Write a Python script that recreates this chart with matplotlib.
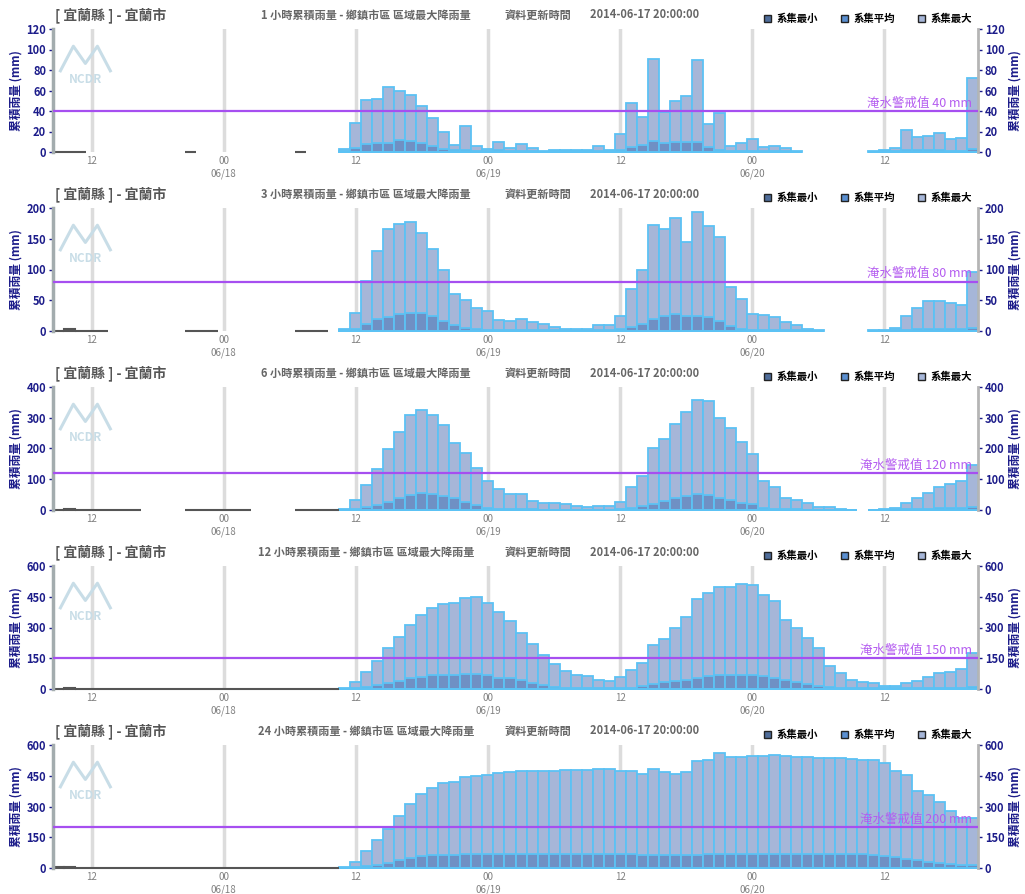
import matplotlib
matplotlib.use("Agg")
import matplotlib.pyplot as plt
import matplotlib.transforms as mtransforms
from matplotlib.patches import Patch
import numpy as np

plt.rcParams['font.family'] = ['Noto Sans CJK TC', 'DejaVu Sans']

N = None
# forecast hours, counted from 06/17 00:00 (35 -> 06/18 11:00 ... 92 -> 06/20 20:00)
hours = np.arange(35, 93)

# ---- 1 hour ----
max_1h = [2.5, 28, 51, 52, 63, 60, 56, 45, 33, 20, 6.5, 25, 6, 3, 10, 4, 8, 3.5, 0.5, 2,
          2, 1.5, 2, 6, 2, 18, 48, 34, 91, 39, 50, 55, 90, 27, 38.5, 6, 9, 13, 5, 6,
          3.5, 0.5, N, N, N, N, N, N, 0.5, 2, 4, 21, 15, 16, 19, 12.5, 13.5, 72]
avg_1h = [0.5, 4, 7.5, 9, 9, 12, 11, 9, 6, 3, 1.5, 1.5, 1, 1, 1.5, 1, 1, 0.5, 0, 0.5,
          0.5, 0.5, 0.5, 1, 0.5, 1.5, 5, 6.5, 11, 9, 10, 10, 10, 5, 2, 1, 1, 1, 0.5, 0.5,
          0.5, 0, N, N, N, N, N, N, 0, 0.5, 0.5, 1.5, 1.5, 1.5, 1.5, 1, 1, 3]
min_1h = [0] * 42 + [N] * 6 + [0] * 10
obs_hours_1h = [9, 10, 11, 21, 31]
obs_1h = [0, 0, 0, 0, 0]

# ---- 3 hours ----
max_3h = [3, 30, 82, 130, 166, 174, 178, 160, 134, 99, 60, 50, 37, 33, 18, 16, 20, 15, 12, 6,
          4, 4, 4, 9, 10, 25, 68, 99, 173, 166, 183, 145, 194, 170, 153, 71, 52, 28, 26, 23,
          14, 9, 3, 1, N, N, N, N, 1, 2, 5, 25, 37, 49, 48, 46, 43, 96]
avg_3h = [1, 4, 12, 19, 22, 27, 30, 30, 24, 16, 9, 5, 3, 2, 1.5, 1.5, 1.5, 1.5, 1, 1,
          0.5, 0.5, 0.5, 1, 1, 3, 6.5, 11, 20, 24, 28, 25, 25, 22, 16, 8, 3, 1.5, 1.5, 1.5,
          1, 1, 0.5, 0, N, N, N, N, 0, 0.5, 1, 2, 3, 3.5, 3.5, 3, 3, 5]
min_3h = [0] * 44 + [N] * 4 + [0] * 10
obs_hours_3h = [9, 10, 11, 12, 13, 21, 22, 23, 31, 32, 33]
obs_3h = [0, 2.5, 0, 0, 0, 0, 0, 0, 0, 0, 0]

# ---- 6 hours ----
max_6h = [2, 31, 81, 132, 199, 255, 309, 324, 309, 276, 217, 186, 135, 93, 67, 52, 52, 30, 24, 24,
          18, 14, 9, 12, 12, 27, 75, 109, 200, 231, 280, 318, 358, 354, 299, 266, 221, 183, 95, 75,
          39, 34, 24, 11, 9, 2, 0.5, N, 0.5, 2, 6.5, 24, 39, 54, 75, 83, 93, 145]
avg_6h = [0.5, 2, 10, 17, 26, 38, 48, 54, 51, 45, 38, 26, 17, 8, 4, 2.5, 2, 2, 1.5, 1.5,
          1, 1, 1, 1, 1, 2, 5, 12, 20, 29, 39, 45, 52, 49, 39, 32, 24, 18, 7, 3,
          2, 2, 1.5, 1, 1, 0.5, 0, N, 0, 0.5, 1, 2, 3, 4, 5, 5, 6, 9]
min_6h = [0] * 47 + [N] + [0] * 10
obs_hours_6h = [9, 10, 11, 12, 13, 14, 15, 16, 21, 22, 23, 24, 25, 26, 31, 32, 33, 34]
obs_6h = [0, 4, 0, 0, 0, 0, 0, 0, 0, 0, 0, 0, 0, 0, 0, 0, 0, 0]

# ---- 12 hours ----
max_12h = [3, 34, 85, 138, 198, 256, 311, 359, 393, 416, 420, 444, 449, 421, 377, 331, 274, 221, 166, 123,
           90, 67, 62, 43, 38, 57, 95, 128, 215, 246, 300, 351, 441, 469, 500, 500, 510, 507, 457, 430,
           339, 298, 251, 198, 110, 80, 44, 34, 28, 15, 15, 28, 38, 57, 77, 85, 100, 175]
avg_12h = [0.5, 6, 10, 18, 28, 38, 52, 59, 66, 66, 66, 72, 72, 67, 56, 52, 43, 31, 20, 10,
           5, 4, 4, 3, 3, 4, 5, 13, 23, 33, 41, 46, 56, 61, 66, 66, 66, 66, 61, 56,
           46, 36, 26, 16, 8, 5, 4, 3, 3, 3, 3, 3, 4, 4, 5, 5, 6, 8]
min_12h = [0] * 58
obs_hours_12h = list(range(9, 35))
obs_12h = [0, 4] + [0] * 24

# ---- 24 hours ----
max_24h = [3, 31, 83, 136, 192, 255, 312, 359, 392, 417, 420, 446, 451, 456, 464, 469, 474, 474, 474, 474,
           479, 479, 479, 483, 483, 474, 474, 460, 483, 469, 460, 469, 520, 527, 560, 540, 540, 548, 545, 549,
           545, 540, 540, 535, 535, 535, 532, 527, 527, 514, 472, 455, 377, 356, 320, 279, 246, 246]
avg_24h = [0.5, 6.5, 11.5, 15, 25, 40, 48, 58, 63, 63, 63, 68, 68, 68, 68, 68, 68, 68, 68, 68,
           68, 68, 68, 68, 68, 68, 68, 63, 63, 63, 63, 63, 65, 67, 67, 67, 67, 67, 67, 67,
           67, 67, 67, 67, 67, 67, 67, 67, 62, 59, 54, 46, 39, 29, 23, 18, 15, 13]
min_24h = [0] * 58
obs_hours_24h = list(range(9, 35))
obs_24h = [5, 4] + [0] * 24

tick_hours = [12, 24, 36, 48, 60, 72, 84]
tick_labels = ['12', '00\n06/18', '12', '00\n06/19', '12', '00\n06/20', '12']

panels = [
    ('1', max_1h, avg_1h, min_1h, obs_hours_1h, obs_1h, 120, 20, 40),
    ('3', max_3h, avg_3h, min_3h, obs_hours_3h, obs_3h, 200, 50, 80),
    ('6', max_6h, avg_6h, min_6h, obs_hours_6h, obs_6h, 400, 100, 120),
    ('12', max_12h, avg_12h, min_12h, obs_hours_12h, obs_12h, 600, 150, 150),
    ('24', max_24h, avg_24h, min_24h, obs_hours_24h, obs_24h, 600, 150, 200),
]

c_max = '#a6b6d8'
c_avg = '#6f90c4'
c_min = '#4f6d9a'
c_edge = '#5cc2f4'
navy = '#1c1c8a'
W, H = 1025, 894

fig = plt.figure(figsize=(W / 100, H / 100), dpi=100)

for i, (hrs, vmax, vavg, vmin, ohrs, obs, ymax, step, warn) in enumerate(panels):
    top = 29 + 179 * i
    ax = fig.add_axes([53 / W, 1 - (top + 123) / H, 925 / W, 123 / H])

    for vals, col in [(vmax, c_max), (vavg, c_avg), (vmin, c_min)]:
        v = np.array(vals, dtype=float)
        keep = ~np.isnan(v)
        ax.bar(hours[keep], v[keep], width=1.0, color=col, edgecolor=c_edge,
               linewidth=1.3, clip_on=False, zorder=2)
    ax.bar(ohrs, obs, width=1.0, color='#555555', edgecolor='#555555',
           linewidth=1.5, clip_on=False, zorder=2)

    ax.axhline(warn, color='#a64ff0', lw=1.6, zorder=3)
    trans = mtransforms.blended_transform_factory(ax.transAxes, ax.transData)
    ax.text(0.994, warn + ymax * 0.012, '淹水警戒值 %d mm' % warn, transform=trans,
            ha='right', va='bottom', color='#b45cf0', fontsize=9, zorder=4)

    ax.set_xlim(8.5, 92.5)
    ax.set_ylim(0, ymax)
    ax.set_xticks(tick_hours)
    ax.set_xticklabels(tick_labels, color='#808080', fontsize=7, linespacing=1.25)
    ax.tick_params(axis='x', length=0, pad=3)
    ax.grid(axis='x', color='#dcdcdc', lw=2.5)
    ax.set_axisbelow(True)

    ax.set_yticks(np.arange(0, ymax + 1, step))
    ax.yaxis.set_ticks_position('both')
    ax.tick_params(axis='y', labelleft=True, labelright=True, direction='out',
                   length=3, width=1, color=navy, labelcolor=navy, labelsize=8, pad=2)
    for lab in ax.get_yticklabels():
        lab.set_fontweight('bold')

    for s in ['top', 'bottom']:
        ax.spines[s].set_visible(False)
    ax.spines['left'].set_color('#a3acae')
    ax.spines['left'].set_linewidth(2.5)
    ax.spines['right'].set_color('#b5b5b5')
    ax.spines['right'].set_linewidth(2)

    ax.text(-0.04, 0.5, '累積雨量 (mm)', transform=ax.transAxes, rotation=90,
            ha='center', va='center', color=navy, fontsize=8.5, fontweight='bold')
    ax.text(1.04, 0.5, '累積雨量 (mm)', transform=ax.transAxes, rotation=90,
            ha='center', va='center', color=navy, fontsize=8.5, fontweight='bold')

    # NCDR logo
    ax.plot([0.008, 0.022, 0.035, 0.048, 0.062], [0.66, 0.86, 0.72, 0.86, 0.66],
            transform=ax.transAxes, color='#c8dde7', lw=2.2, zorder=1)
    ax.text(0.035, 0.59, 'NCDR', transform=ax.transAxes, ha='center', va='center',
            color='#c8dde7', fontsize=8.5, fontweight='bold', zorder=1)

    ty = 1 - (15 + 179 * i) / H
    fig.text(55 / W, ty, '[ 宜蘭縣 ] - 宜蘭市', ha='left', va='center',
             fontsize=10, fontweight='bold', color='#555555')
    fig.text(366 / W, ty, '%s 小時累積雨量 - 鄉鎮市區 區域最大降雨量' % hrs, ha='center',
             va='center', fontsize=8, fontweight='bold', color='#666666')
    fig.text(538 / W, ty, '資料更新時間', ha='center', va='center',
             fontsize=8, fontweight='bold', color='#666666')
    fig.text(645 / W, ty, '2014-06-17 20:00:00', ha='center', va='center',
             fontsize=8, fontweight='bold', color='#666666')

    handles = [Patch(facecolor=c_min, edgecolor='#222222'),
               Patch(facecolor='#5a8fd0', edgecolor='#222222'),
               Patch(facecolor=c_max, edgecolor='#222222')]
    leg = ax.legend(handles, ['系集最小', '系集平均', '系集最大'], loc='lower right',
                    bbox_to_anchor=(1.0, 0.99), ncol=3, frameon=False, fontsize=7.5,
                    handlelength=0.7, handleheight=0.7, handletextpad=0.5,
                    columnspacing=2.2, borderpad=0.1)
    for t in leg.get_texts():
        t.set_fontweight('bold')

fig.savefig('out.png', dpi=100)
